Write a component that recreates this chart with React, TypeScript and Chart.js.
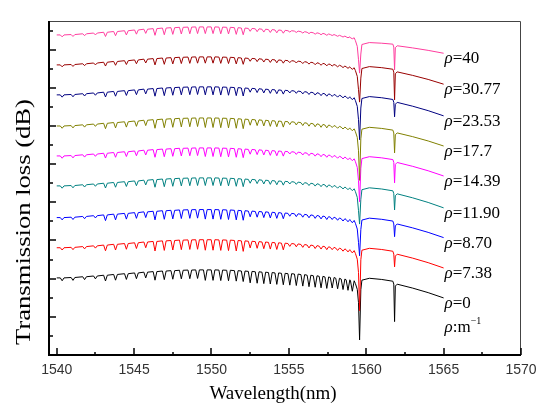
import React, { useEffect, useRef } from 'react';
import { Chart, registerables } from 'chart.js';

Chart.register(...registerables);

// ---- series meta ----
const traceLabels = ['40', '30.77', '23.53', '17.7', '14.39', '11.90', '8.70', '7.38', '0'];
const traceColors = ['#ff3d9e', '#990000', '#000080', '#808000', '#ff00ff', '#008080', '#0000ff', '#ff0000', '#000000'];
// level of each trace at 1540 nm (arbitrary dB offset units)
const startLevels = [16.77, 15.2, 13.63, 12.0, 10.43, 8.86, 7.2, 5.62, 4.04];
// level just after the 1559.6 nm dip, relative to start
const postOffsets = [-0.4, -0.09, -0.09, -0.07, -0.04, -0.1, -0.03, -0.03, -0.02];
// level at 1565 nm, relative to start
const endOffsets = [-0.96, -1.01, -1.1, -1.05, -1.05, -1.15, -1.05, -1.06, -1.05];
// bottom of the 1559.57 nm dip, relative to start
const mainDipDepths = [2.0, 1.95, 2.35, 2.85, 2.4, 2.0, 2.0, 3.3, 3.25];
// bottom of the 1561.83 nm dip, relative to start
const secondDipDepths = [1.83, 1.83, 1.15, 1.41, 1.41, 1.26, 1.0, 1.0, 2.29];

// ---- comb (cladding-mode) ripple dips, shared by all traces ----
const combDips = [
  1540.35, 1541.05, 1541.8, 1542.5, 1543.15, 1543.8, 1544.5, 1545.15, 1545.75, 1546.35,
  1546.95, 1547.5, 1548.05, 1548.6, 1549.1, 1549.6, 1550.1, 1550.6, 1551.1, 1551.6,
  1552.05, 1552.5, 1552.95, 1553.38, 1553.8, 1554.22, 1554.64, 1555.06, 1555.48, 1555.9,
  1556.3, 1556.7, 1557.08, 1557.45, 1557.8, 1558.15, 1558.5, 1558.82, 1559.1,
];
// ripple top level at each comb dip, relative to start
const combEnvelope = [
  0.0, 0.02, 0.06, 0.1, 0.14, 0.18, 0.22, 0.26, 0.3, 0.33,
  0.36, 0.38, 0.4, 0.41, 0.42, 0.42, 0.42, 0.41, 0.4, 0.38,
  0.36, 0.34, 0.32, 0.3, 0.28, 0.26, 0.24, 0.22, 0.2, 0.17,
  0.14, 0.11, 0.08, 0.05, 0.02, -0.02, -0.06, -0.1, -0.15,
];
const rippleRegionEdges = [1543, 1546, 1549.5, 1552.5, 1555, 1557.5];
// ripple depth per region, per trace
const rippleDepths = [
  [0.1, 0.22, 0.35, 0.35, 0.15, 0.07, 0.05],
  [0.1, 0.2, 0.33, 0.33, 0.15, 0.1, 0.08],
  [0.12, 0.25, 0.4, 0.42, 0.2, 0.12, 0.1],
  [0.12, 0.28, 0.45, 0.5, 0.3, 0.15, 0.1],
  [0.12, 0.25, 0.4, 0.45, 0.25, 0.12, 0.1],
  [0.12, 0.25, 0.4, 0.4, 0.2, 0.12, 0.1],
  [0.12, 0.3, 0.45, 0.5, 0.3, 0.15, 0.12],
  [0.12, 0.3, 0.5, 0.55, 0.35, 0.15, 0.12],
  [0.15, 0.3, 0.45, 0.55, 0.6, 0.6, 0.55],
];
const dipHalfWidth = 0.12;

// ---- main dip (1559.57 nm) shape ----
const mainShoulderX = [1559.3, 1559.42, 1559.5];
const mainShoulderLevels = [-0.3, -0.6, -1.3];
const mainDipX = 1559.57;
const mainRecoveryX = [1559.65, 1559.72];
const mainRecoveryLevels = [-0.6, -0.1];

// ---- long-wavelength decline after the main dip ----
const declineX = [1560.2, 1561.0, 1561.72, 1562.0, 1563.0, 1564.0, 1565.0];
const declineFrac = [0, 0.06, 0.15, 0.3, 0.5, 0.73, 1.0];
const secondDipX = [1561.78, 1561.83, 1561.88];
const secondDipShoulders = [-0.15, -0.1];

// ---- axes ----
const xMajorTicks = [1540, 1545, 1550, 1555, 1560, 1565, 1570];
const xTickLabels = ['1540', '1545', '1550', '1555', '1560', '1565', '1570'];
const xMinorTicks = [1542.5, 1547.5, 1552.5, 1557.5, 1562.5, 1567.5];
const yMajorTicks = [2, 4, 6, 8, 10, 12, 14, 16];
const yMinorTicks = [1, 3, 5, 7, 9, 11, 13, 15, 17];

function buildTrace(i: number) {
  const s = startLevels[i];
  const post = s + postOffsets[i];
  const end = s + endOffsets[i];
  const pts: { x: number; y: number }[] = [{ x: 1540, y: s }];
  combDips.forEach((w, k) => {
    const top = s + combEnvelope[k];
    let r = 0;
    while (r < rippleRegionEdges.length && w >= rippleRegionEdges[r]) r++;
    const d = rippleDepths[i][r];
    pts.push({ x: w - dipHalfWidth, y: top }, { x: w, y: top - d }, { x: w + dipHalfWidth, y: top });
  });
  mainShoulderX.forEach((x, k) => pts.push({ x, y: s + mainShoulderLevels[k] }));
  pts.push({ x: mainDipX, y: s - mainDipDepths[i] });
  mainRecoveryX.forEach((x, k) => pts.push({ x, y: post + mainRecoveryLevels[k] }));
  const lv = declineFrac.map((f) => post + (end - post) * f);
  declineX.forEach((x, k) => {
    pts.push({ x, y: lv[k] });
    if (k === 2) {
      pts.push({ x: secondDipX[0], y: lv[2] + secondDipShoulders[0] });
      pts.push({ x: secondDipX[1], y: s - secondDipDepths[i] });
      pts.push({ x: secondDipX[2], y: lv[3] + secondDipShoulders[1] });
    }
  });
  return pts;
}

const SERIF = "'Liberation Serif', 'Times New Roman', serif";
const SANS = "'Liberation Sans', Arial, sans-serif";

const framePlugin = {
  id: 'frameAndAxes',
  afterDraw(chart: any) {
    const { ctx, chartArea, scales } = chart;
    const { left, right, top, bottom } = chartArea;
    const xs = scales.x;
    const ys = scales.y;
    ctx.save();
    // top & right border
    ctx.strokeStyle = '#444';
    ctx.lineWidth = 1;
    ctx.beginPath();
    ctx.moveTo(left, top + 0.5);
    ctx.lineTo(right - 0.5, top + 0.5);
    ctx.lineTo(right - 0.5, bottom);
    ctx.stroke();
    // left & bottom axis
    ctx.strokeStyle = '#000';
    ctx.lineWidth = 2;
    ctx.beginPath();
    ctx.moveTo(left, top);
    ctx.lineTo(left, bottom);
    ctx.lineTo(right, bottom);
    ctx.stroke();
    // ticks
    ctx.lineWidth = 1.5;
    ctx.beginPath();
    xMajorTicks.forEach((v) => {
      const px = Math.round(xs.getPixelForValue(v));
      ctx.moveTo(px, bottom);
      ctx.lineTo(px, bottom - 7);
    });
    xMinorTicks.forEach((v) => {
      const px = Math.round(xs.getPixelForValue(v));
      ctx.moveTo(px, bottom);
      ctx.lineTo(px, bottom - 3);
    });
    yMajorTicks.forEach((v) => {
      const py = Math.round(ys.getPixelForValue(v));
      ctx.moveTo(left, py);
      ctx.lineTo(left + 7, py);
    });
    yMinorTicks.forEach((v) => {
      const py = Math.round(ys.getPixelForValue(v));
      ctx.moveTo(left, py);
      ctx.lineTo(left + 4, py);
    });
    ctx.stroke();
    // tick labels
    ctx.fillStyle = '#333';
    ctx.font = `14px ${SANS}`;
    ctx.textAlign = 'center';
    ctx.textBaseline = 'middle';
    xMajorTicks.forEach((v, k) => {
      ctx.fillText(xTickLabels[k], xs.getPixelForValue(v), bottom + 15);
    });
    // x title
    ctx.fillStyle = '#000';
    ctx.font = `19px ${SERIF}`;
    ctx.fillText('Wavelength(nm)', 273, 394);
    // y title (elongated along its length, as in the reference)
    ctx.save();
    ctx.translate(25, 222);
    ctx.rotate(-Math.PI / 2);
    ctx.scale(1.33, 1);
    ctx.font = `20px ${SERIF}`;
    ctx.fillText('Transmission loss (dB)', 0, 0);
    ctx.restore();

    // trace labels
    const lx = xs.getPixelForValue(1565) + 1;
    ctx.textAlign = 'left';
    ctx.textBaseline = 'middle';
    let lastY = 0;
    traceLabels.forEach((lab, i) => {
      const y = ys.getPixelForValue(startLevels[i] + endOffsets[i]) + 5.5;
      lastY = y;
      ctx.font = `italic 17px ${SERIF}`;
      ctx.fillText('ρ', lx, y);
      const w = ctx.measureText('ρ').width;
      ctx.font = `17px ${SERIF}`;
      ctx.fillText('=' + lab, lx + w, y);
    });
    const uy = lastY + 24;
    ctx.font = `italic 17px ${SERIF}`;
    ctx.fillText('ρ', lx, uy);
    let ux = lx + ctx.measureText('ρ').width;
    ctx.font = `17px ${SERIF}`;
    ctx.fillText(':m', ux, uy);
    ux += ctx.measureText(':m').width;
    ctx.font = `10px ${SERIF}`;
    ctx.fillText('\u22121', ux, uy - 6);
    ctx.restore();
  },
};

export default function App() {
  const ref = useRef<HTMLCanvasElement>(null);
  useEffect(() => {
    const canvas = ref.current;
    if (!canvas) return;
    const datasets = traceLabels.map((lab, i) => ({
      label: 'ρ=' + lab,
      data: buildTrace(i),
      borderColor: traceColors[i],
      backgroundColor: traceColors[i],
      borderWidth: 1,
      pointRadius: 0,
      fill: false,
      tension: 0,
    }));
    const chart = new Chart(canvas, {
      type: 'line',
      data: { datasets } as any,
      options: {
        animation: false,
        responsive: false,
        devicePixelRatio: 1,
        parsing: false,
        normalized: true,
        events: [],
        layout: { padding: { left: 49, right: 25, top: 21, bottom: 48 } },
        scales: {
          x: { type: 'linear', min: 1539.5, max: 1570, display: false },
          y: { type: 'linear', min: 0, max: 17.5, display: false },
        },
        plugins: { legend: { display: false }, tooltip: { enabled: false } },
      } as any,
      plugins: [framePlugin],
    });
    return () => chart.destroy();
  }, []);
  return (
    <div style={{ position: 'absolute', left: 0, top: 0, width: 546, height: 403, background: '#fff' }}>
      <canvas ref={ref} width={546} height={403} style={{ display: 'block' }} />
    </div>
  );
}
